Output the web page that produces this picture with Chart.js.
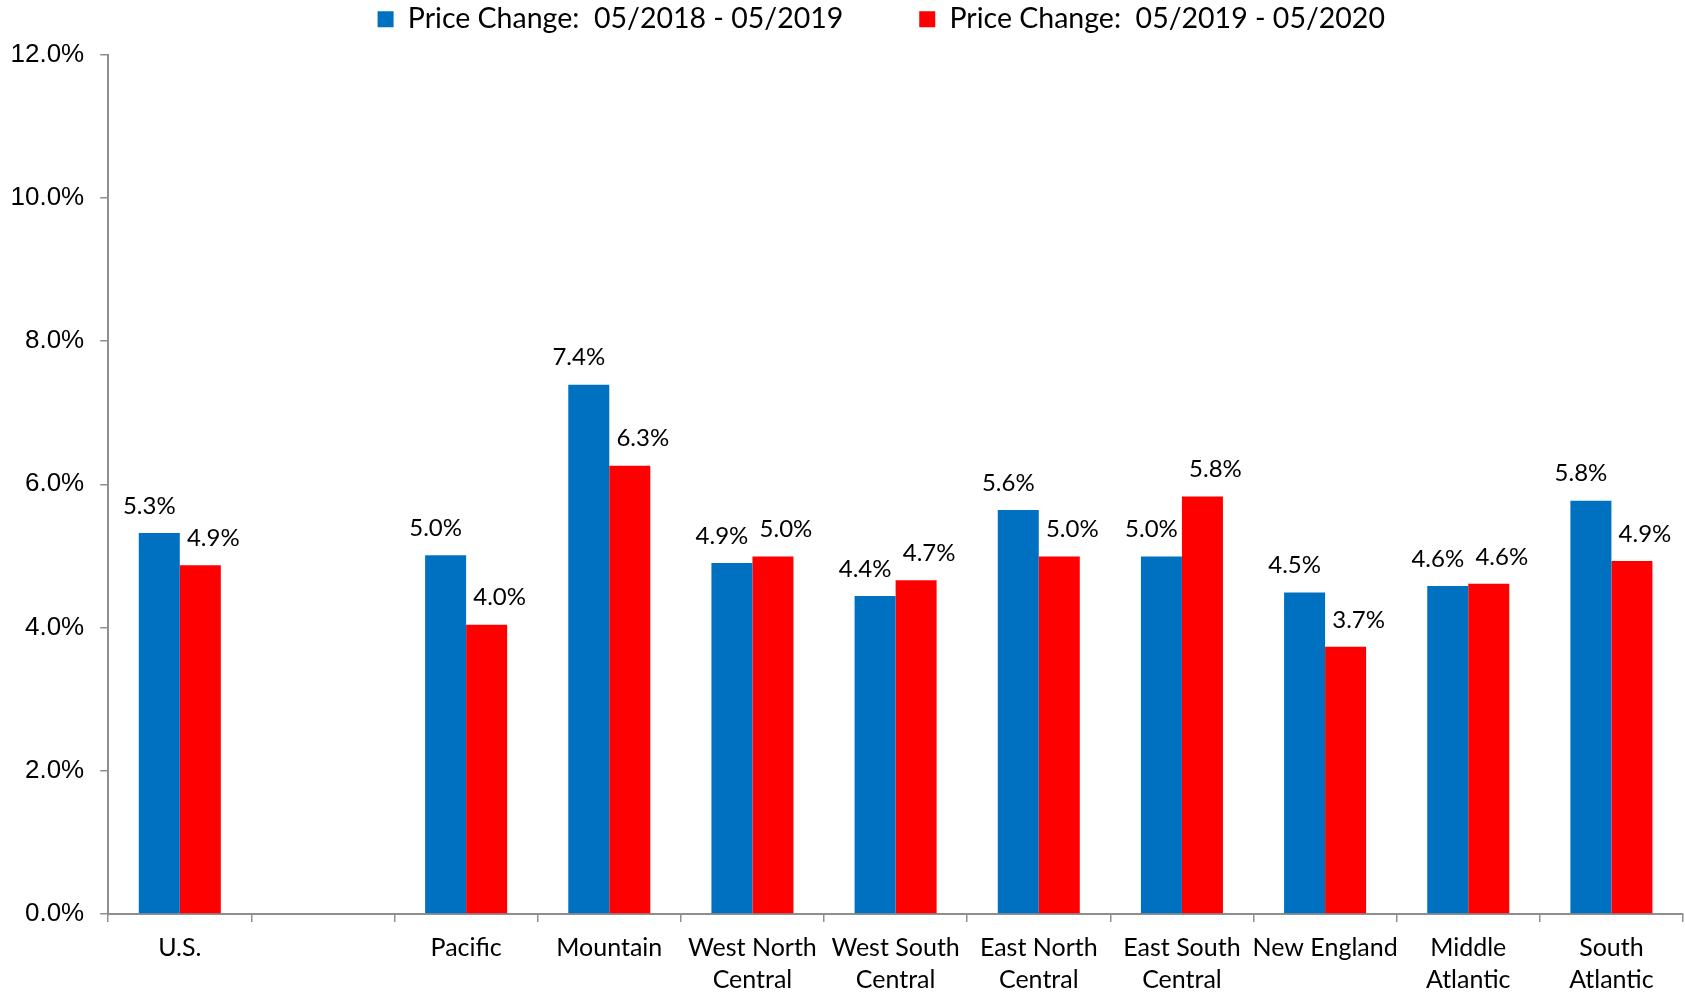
<!DOCTYPE html>
<html>
<head>
<meta charset="utf-8">
<script src="https://cdn.jsdelivr.net/npm/chart.js@4.4.1/dist/chart.umd.min.js"></script>
<style>
html, body { margin: 0; padding: 0; background: #ffffff; }
#wrap { width: 1685px; height: 995px; position: relative; }
</style>
</head>
<body>
<div id="wrap"><canvas id="c"></canvas></div>
<script>
const categories = [['U.S.'], [''], ['Pacific'], ['Mountain'], ['West North', 'Central'], ['West South', 'Central'], ['East North', 'Central'], ['East South', 'Central'], ['New England'], ['Middle', 'Atlantic'], ['South', 'Atlantic']];
const series2019 = [5.32, null, 5.01, 7.39, 4.90, 4.44, 5.64, 4.99, 4.49, 4.58, 5.77];
const series2020 = [4.87, null, 4.04, 6.26, 4.99, 4.66, 4.99, 5.83, 3.73, 4.61, 4.93];
const seriesNames = ['Price Change:  05/2018 - 05/2019', 'Price Change:  05/2019 - 05/2020'];
const seriesColors = ['#0070C0', '#FF0000'];
const yTickMin = 0, yTickMax = 12, yTickStep = 2;

const AXIS_GRAY = '#8f8f8f';

const barLabels = {
  id: 'barLabels',
  afterDatasetsDraw(chart) {
    const ctx = chart.ctx;
    ctx.save();
    ctx.font = '24px Lato';
    ctx.fillStyle = '#000000';
    ctx.textAlign = 'center';
    ctx.textBaseline = 'middle';
    chart.data.datasets.forEach((ds, di) => {
      const meta = chart.getDatasetMeta(di);
      const dx = di === 0 ? -10 : 13;
      meta.data.forEach((bar, i) => {
        const v = ds.data[i];
        if (v == null) return;
        ctx.fillText(v.toFixed(1) + '%', bar.x + dx, bar.y - 27);
      });
    });
    ctx.restore();
  }
};

const legendShift = {
  id: 'legendShift',
  afterLayout(chart) {
    const l = chart.legend;
    if (l) { l.left += 42.5; l.right += 42.5; l.top -= 11; l.bottom -= 11; }
  }
};

function draw() {
  new Chart(document.getElementById('c'), {
    type: 'bar',
    data: {
      labels: categories,
      datasets: [
        { label: seriesNames[0], data: series2019, backgroundColor: seriesColors[0], borderWidth: 0 },
        { label: seriesNames[1], data: series2020, backgroundColor: seriesColors[1], borderWidth: 0 }
      ]
    },
    options: {
      responsive: true,
      maintainAspectRatio: false,
      animation: false,
      devicePixelRatio: 1,
      datasets: { bar: { categoryPercentage: 0.573, barPercentage: 1.0 } },
      layout: { padding: { top: -60, left: -5.5, right: 2, bottom: -10.5 } },
      plugins: {
        tooltip: { enabled: false },
        legend: {
          position: 'top',
          labels: {
            font: { family: 'Lato', size: 28.5 },
            color: '#000000',
            boxWidth: 16,
            boxHeight: 16,
            padding: 76
          }
        }
      },
      scales: {
        x: {
          grid: { display: true, drawOnChartArea: false, drawTicks: true, tickLength: 8, color: AXIS_GRAY, lineWidth: 1.5, offset: true },
          border: { display: true, color: AXIS_GRAY, width: 2 },
          ticks: { font: { family: 'Lato', size: 25, lineHeight: 1.27 }, color: '#000000', padding: 10, maxRotation: 0, autoSkip: false }
        },
        y: {
          min: yTickMin,
          max: yTickMax,
          grid: { display: true, drawOnChartArea: false, drawTicks: true, tickLength: 8, color: AXIS_GRAY, lineWidth: 1.5 },
          border: { display: true, color: AXIS_GRAY, width: 2 },
          ticks: {
            stepSize: yTickStep,
            font: { family: 'Liberation Sans', size: 26 },
            color: '#000000',
            padding: 16,
            callback: v => v.toFixed(1) + '%'
          }
        }
      }
    },
    plugins: [barLabels, legendShift]
  });
}

Promise.all([
  document.fonts.load('24px Lato'),
  document.fonts.load('26px "Liberation Sans"')
]).then(draw, draw);
</script>
</body>
</html>
